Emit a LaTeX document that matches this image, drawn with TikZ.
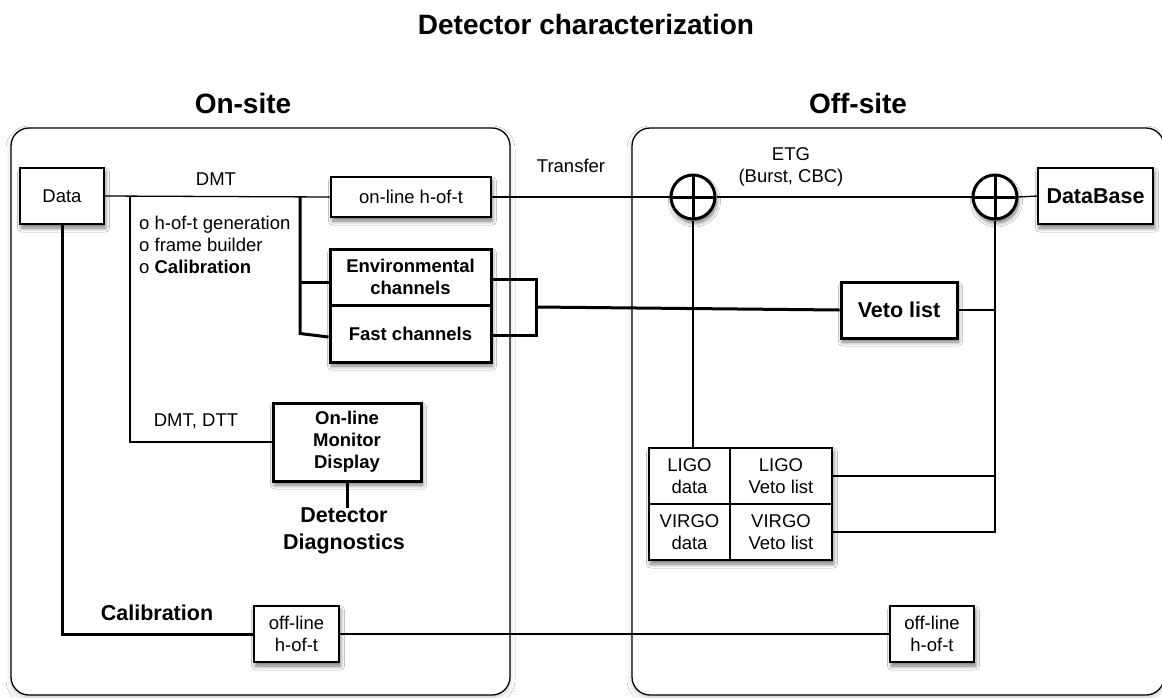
\documentclass[tikz,border=0pt]{standalone}
\usepackage{fontspec}
\setmainfont{Liberation Sans}
\usetikzlibrary{shadows.blur,fit}
\newcommand\fsz[2]{\fontsize{#1}{#2}\selectfont}
\tikzset{
  boxshadow/.style={blur shadow={shadow xshift=1.5pt, shadow yshift=-4pt, shadow blur radius=4pt, shadow blur steps=8, shadow opacity=55}},
  cell/.style={draw, line width=1.4pt, fill=white, inner sep=0pt, align=center, font=\fsz{18.5}{22}},
  thinbox/.style={cell, boxshadow},
  thickbox/.style={thinbox, line width=3pt, font=\bfseries\fsz{18.5}{22}},
  bigbold/.style={font=\bfseries\fsz{21.5}{27}},
  heading/.style={font=\bfseries\fsz{28}{32}, inner sep=0pt},
  lbl/.style={font=\fsz{18.5}{22}, inner sep=0pt, align=center},
  panel/.style={draw, line width=1.3pt, rounded corners=18pt, fill=white, blur shadow={shadow xshift=0pt, shadow yshift=-3pt, shadow blur radius=5pt, shadow opacity=20}},
  thinline/.style={line width=1.3pt},
  thickline/.style={line width=3pt},
  plus/.style={circle, draw, line width=3pt, minimum size=44pt, inner sep=0pt, fill=white, boxshadow,
    path picture={\draw[line width=3pt] (path picture bounding box.north) -- (path picture bounding box.south)
      (path picture bounding box.west) -- (path picture bounding box.east);}}
}
\begin{document}
\begin{tikzpicture}[x=1pt,y=-1pt]
\useasboundingbox (0,0) rectangle (1162,697);
\fill[white] (0,0) rectangle (1162,697);

% titles
\node[heading] (title) at (586,24) {Detector characterization};
\node[heading] (onsite) at (243,103) {On-site};
\node[heading] (offsite) at (858,103) {Off-site};

% panels
\draw[panel] (11,128) rectangle (510,695);
\draw[panel] (632,128) rectangle (1164,695);

% on-site nodes
\node[thinbox, minimum width=84pt, minimum height=56pt] (data) at (62,196) {Data};
\node[thinbox, minimum width=160pt, minimum height=40pt] (online) at (411,197) {on-line h-of-t};
\node[thickbox, minimum width=161pt, minimum height=113pt] (chan) at (410.5,305.5) {};
\node[cell, line width=3pt, font=\bfseries\fsz{18.5}{22}, minimum width=161pt, minimum height=56pt] (env) at (410.5,277) {Environmental\\channels};
\node[cell, line width=3pt, font=\bfseries\fsz{18.5}{22}, minimum width=161pt, minimum height=57pt] (fast) at (410.5,333.5) {Fast channels};
\node[thickbox, minimum width=148pt, minimum height=78pt] (mon) at (347,442) {On-line\\Monitor\\Display};
\node[bigbold, inner sep=0pt, align=center] (diag) at (344,531) {Detector\\Diagnostics};
\node[thinbox, minimum width=85pt, minimum height=56pt] (offl) at (296.5,634) {off-line\\h-of-t};

% off-site nodes
\node[plus] (c1) at (693,197) {};
\node[plus] (c2) at (995,197) {};
\node[thinbox, bigbold, minimum width=115pt, minimum height=56pt] (db) at (1095.5,196) {DataBase};
\node[thickbox, bigbold, minimum width=116pt, minimum height=56pt] (veto) at (899,310) {Veto list};
\node[thinbox, minimum width=183pt, minimum height=112pt] (table) at (740.5,504) {};
\node[cell, minimum width=81pt, minimum height=56pt] (ligod) at (689.5,476) {LIGO\\data};
\node[cell, minimum width=102pt, minimum height=56pt] (ligov) at (781,476) {LIGO\\Veto list};
\node[cell, minimum width=81pt, minimum height=56pt] (virgod) at (689.5,532) {VIRGO\\data};
\node[cell, minimum width=102pt, minimum height=56pt] (virgov) at (781,532) {VIRGO\\Veto list};
\node[thinbox, minimum width=84pt, minimum height=56pt] (offr) at (932,634) {off-line\\h-of-t};

% labels
\node[lbl] (dmt) at (216,179) {DMT};
\node[lbl, anchor=west, align=left] (bullets) at (139,245) {o h-of-t generation\\o frame builder\\o \textbf{Calibration}};
\node[lbl] (transfer) at (571,166) {Transfer};
\node[lbl] (etg) at (791,167) {ETG\\(Burst, CBC)};
\node[lbl] (dmtdtt) at (196,421) {DMT, DTT};
\node[bigbold, inner sep=0pt] (calib) at (157,613) {Calibration};

% connectors
\coordinate (j1) at (130,197);
\coordinate (j2) at (130,442);
\coordinate (j3) at (300,197);
\coordinate (b1) at (536,279);
\coordinate (b2) at (536,335);
\coordinate (b3) at (536,307);

\draw[thinline] (data.east) -- (online.west);
\draw[thinline] (j1) -- (j2) -- (mon.west);
\draw[thickline] (j3) -- (j3 |- fast.west) -- ([yshift=-3.5pt]fast.west);
\draw[thickline] (j3 |- env.west) ++(0,5) -- ([yshift=-5pt]env.west);
\draw[thickline] (env.east |- b1) -- (b1) -- (b2) -- (fast.east |- b2);
\draw[thickline] (b3) -- (veto.west);

\draw[thinline] (online.east) -- (c1.west);
\draw[thinline] (c1.east) -- (c2.west);
\draw[thinline] (c2.east) -- (db.west);
\draw[thinline] (c1.south) -- (c1.south |- ligod.north);
\draw[thinline] (c2.south) -- (c2.south |- virgov.east) -- (virgov.east);
\draw[thinline] (ligov.east) -- (c2.south |- ligov.east);
\draw[thinline] (veto.east) -- (c2.south |- veto.east);

\draw[thickline] (mon.south) -- (mon.south |- diag.north);
\draw[thickline] (data.south) |- (offl.west);
\draw[thinline] (offl.east) -- (offr.west);
\end{tikzpicture}
\end{document}
